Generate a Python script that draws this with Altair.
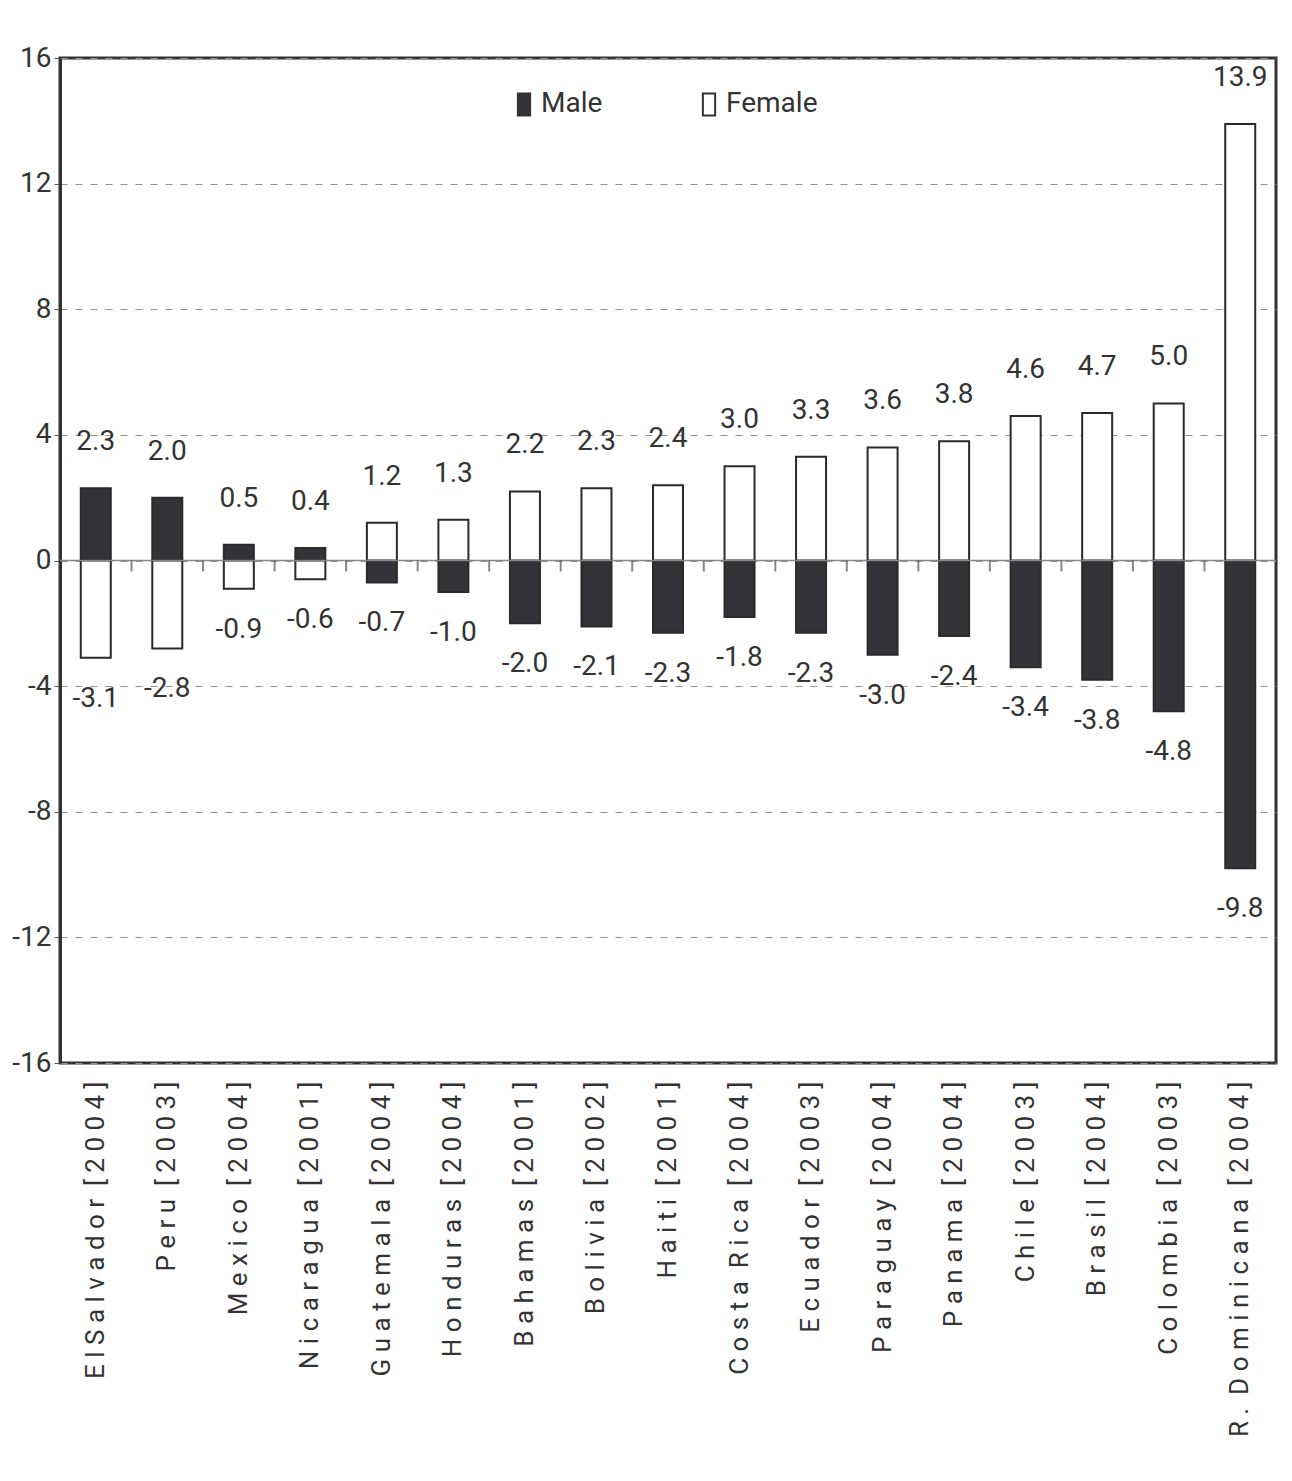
import altair as alt
import pandas as pd

S = "\u00a0 "  # wider gap between words
countries = [
    "E l S a l v a d o r" + S + "[ 2 0 0 4 ]",
    "P e r u" + S + "[ 2 0 0 3 ]",
    "M e x i c o" + S + "[ 2 0 0 4 ]",
    "N i c a r a g u a" + S + "[ 2 0 0 1 ]",
    "G u a t e m a l a" + S + "[ 2 0 0 4 ]",
    "H o n d u r a s" + S + "[ 2 0 0 4 ]",
    "B a h a m a s" + S + "[ 2 0 0 1 ]",
    "B o l i v i a" + S + "[ 2 0 0 2 ]",
    "H a i t i" + S + "[ 2 0 0 1 ]",
    "C o s t a" + S + "R i c a" + S + "[ 2 0 0 4 ]",
    "E c u a d o r" + S + "[ 2 0 0 3 ]",
    "P a r a g u a y" + S + "[ 2 0 0 4 ]",
    "P a n a m a" + S + "[ 2 0 0 4 ]",
    "C h i l e" + S + "[ 2 0 0 3 ]",
    "B r a s i l" + S + "[ 2 0 0 4 ]",
    "C o l o m b i a" + S + "[ 2 0 0 3 ]",
    "R ." + S + "D o m i n i c a n a" + S + "[ 2 0 0 4 ]",
]
male = [2.3, 2.0, 0.5, 0.4, -0.7, -1.0, -2.0, -2.1, -2.3, -1.8, -2.3, -3.0, -2.4, -3.4, -3.8, -4.8, -9.8]
female = [-3.1, -2.8, -0.9, -0.6, 1.2, 1.3, 2.2, 2.3, 2.4, 3.0, 3.3, 3.6, 3.8, 4.6, 4.7, 5.0, 13.9]
y_ticks = [-16, -12, -8, -4, 0, 4, 8, 12, 16]

rows = []
for c, m, f in zip(countries, male, female):
    rows.append({"country": c, "sex": "Male", "value": m})
    rows.append({"country": c, "sex": "Female", "value": f})
df = pd.DataFrame(rows)
boundaries = pd.DataFrame({"country": countries[1:], "v": [0] * (len(countries) - 1)})

FONT = "Roboto"
DARK = "#333338"
TXT = "#333333"

x_enc = alt.X(
    "country:N",
    sort=countries,
    scale=alt.Scale(paddingInner=0.58, paddingOuter=0.29),
    axis=alt.Axis(
        title=None, labelAngle=-90, labelFontSize=26, labelFont=FONT,
        labelColor=TXT, ticks=False, domain=False, labelPadding=18,
        labelLimit=0,
    ),
)
y_scale = alt.Scale(domain=[-16, 16], nice=False)

base = alt.Chart(df)

bars = base.mark_bar(stroke="#2a2a2a", strokeWidth=2, size=30).encode(
    x=x_enc,
    y=alt.Y(
        "value:Q",
        scale=y_scale,
        axis=alt.Axis(
            title=None, values=y_ticks, labelExpr="datum.value + ''",
            labelFontSize=28, labelFont=FONT, labelColor=TXT, grid=True,
            gridDash=[7, 8], gridColor="#9a8f8f", gridWidth=1,
            domainColor="#333", domainWidth=3, tickColor="#555", tickSize=6,
            labelPadding=3,
        ),
    ),
    fill=alt.Fill(
        "sex:N",
        scale=alt.Scale(domain=["Male", "Female"], range=[DARK, "#ffffff"]),
        legend=alt.Legend(
            title=None, orient="none", legendX=450, legendY=32,
            direction="horizontal", symbolType="M-0.5,-0.9H0.5V0.9H-0.5Z",
            symbolSize=600, symbolStrokeColor="#333", symbolStrokeWidth=2,
            labelFontSize=28, labelFont=FONT, labelColor=TXT,
            columnPadding=92, symbolOffset=0, labelOffset=3,
        ),
    ),
)

zero = alt.Chart(pd.DataFrame({"v": [0]})).mark_rule(color="#888", strokeWidth=1.5).encode(
    y=alt.Y("v:Q", scale=y_scale)
)

ticks = alt.Chart(boundaries).mark_tick(
    orient="vertical", size=11, thickness=2, color="#555", yOffset=5.5
).encode(
    x=alt.X(
        "country:N",
        bandPosition=0,
        scale=alt.Scale(domain=countries, paddingInner=0, paddingOuter=0),
        axis=None,
    ),
    y=alt.Y("v:Q", scale=y_scale),
)

label_calc = "(datum.value < 0 ? '-' : '') + format(abs(datum.value), '.1f')"

pos_text = base.transform_filter("datum.value >= 0").transform_calculate(
    lab=label_calc
).mark_text(
    dy=-46, fontSize=28, font=FONT, color=TXT, baseline="middle"
).encode(
    x=alt.X("country:N", sort=countries),
    y=alt.Y("value:Q", scale=y_scale),
    text="lab:N",
)
neg_text = base.transform_filter("datum.value < 0").transform_calculate(
    lab=label_calc
).mark_text(
    dy=41, fontSize=28, font=FONT, color=TXT, baseline="middle"
).encode(
    x=alt.X("country:N", sort=countries),
    y=alt.Y("value:Q", scale=y_scale),
    text="lab:N",
)

main = alt.layer(bars, zero, pos_text, neg_text)

chart = (
    alt.layer(main, ticks)
    .resolve_scale(x="independent")
    .properties(
        width=1216, height=1005,
        padding={"top": 36, "left": 3, "right": 2, "bottom": 5},
        background="white",
    )
    .configure_view(stroke="#333", strokeWidth=3)
)

chart.save("out.html", embed_options={"renderer": "svg", "actions": False})
